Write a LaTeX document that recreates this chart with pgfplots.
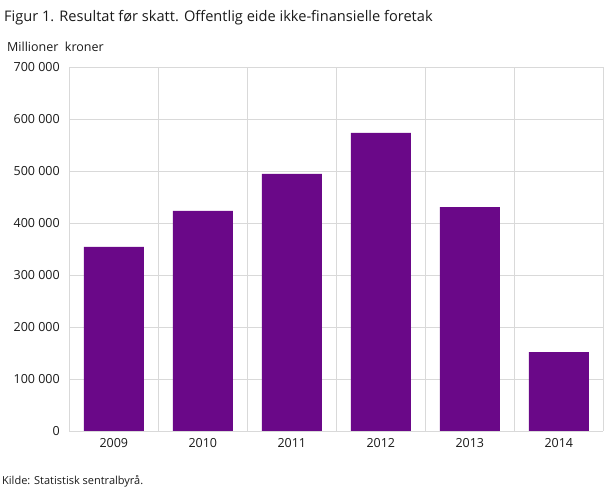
\documentclass[border=0pt]{standalone}
\usepackage{pgfplots}
\pgfplotsset{compat=1.18}
\usepackage{fontspec}
\setmainfont{Open Sans}
\definecolor{barc}{HTML}{6A0888}
\definecolor{gridc}{HTML}{D9D9D9}
\definecolor{txt}{HTML}{1A1A1A}
\begin{document}
\begin{tikzpicture}
\path[use as bounding box] (0pt,0pt) rectangle (609pt,489pt);
\begin{axis}[
  at={(69.3pt,58pt)}, anchor=south west,
  scale only axis, width=534pt, height=363.7pt,
  xmin=-0.5, xmax=5.5, ymin=0, ymax=700000,
  xtick={0,1,2,3,4,5},
  xticklabels={2009,2010,2011,2012,2013,2014},
  minor xtick={-0.5,0.5,1.5,2.5,3.5,4.5,5.5},
  ytick={0,100000,200000,300000,400000,500000,600000,700000},
  yticklabels={0,100 000,200 000,300 000,400 000,500 000,600 000,700 000},
  major tick length=0pt, minor tick length=0pt,
  xmajorgrids=false, xminorgrids=true, ymajorgrids=true,
  grid style={draw=gridc, line width=0.8pt},
  minor grid style={draw=gridc, line width=0.8pt},
  axis line style={draw=gridc, line width=0.8pt},
  axis x line=bottom, axis y line=left,
  x axis line style={-}, y axis line style={-},
  ticklabel style={font=\fontsize{12.5}{14}\selectfont, text=txt},
  yticklabel style={xshift=-6pt},
  xticklabel style={yshift=-4pt},
  scaled y ticks=false,
  clip=false,
]
\addplot[ybar, bar width=60pt, fill=barc, draw=none] coordinates {
(0,354400) (1,423700) (2,494800) (3,573700) (4,430800) (5,152000)};
\end{axis}
\node[anchor=base west, inner sep=0pt, text=txt] at (4pt,467pt) {\fontsize{14.6}{18}\selectfont Figur 1. Resultat før skatt. Offentlig eide ikke-finansielle foretak};
\node[anchor=base west, inner sep=0pt, text=txt] at (7pt,437pt) {\fontsize{12.5}{14}\selectfont Millioner\ \ kroner};
\node[anchor=base west, inner sep=0pt, text=txt] at (2pt,5pt) {\fontsize{11}{13}\selectfont Kilde: Statistisk sentralbyrå.};
\end{tikzpicture}
\end{document}
